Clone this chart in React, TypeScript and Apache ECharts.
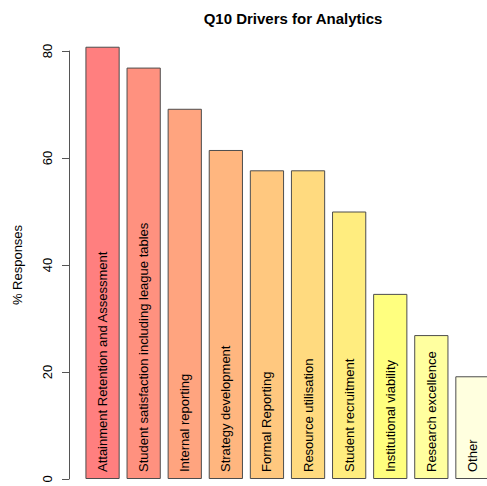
import React, { useEffect, useRef } from "react";
import * as echarts from "echarts";

const categories = [
  "Attainment Retention and Assessment",
  "Student satisfaction including league tables",
  "Internal reporting",
  "Strategy development",
  "Formal Reporting",
  "Resource utilisation",
  "Student recruitment",
  "Institutional viability",
  "Research excellence",
  "Other",
];
const values = [80.8, 76.9, 69.2, 61.5, 57.7, 57.7, 50.0, 34.6, 26.9, 19.2];
const barColors = [
  "#FF7F7F", "#FF917F", "#FFA47F", "#FFB67F", "#FFC87F",
  "#FFDA7F", "#FFED7F", "#FFFF7F", "#FFFF9F", "#FFFFDF",
];
const yTicks = [0, 20, 40, 60, 80];

export default function App() {
  const ref = useRef<HTMLDivElement>(null);
  useEffect(() => {
    document.body.style.margin = "0";
    const chart = echarts.init(ref.current!, null, { renderer: "svg" });
    const font = "Liberation Sans, Arial, Helvetica, sans-serif";
    chart.setOption({
      animation: false,
      backgroundColor: "#ffffff",
      title: {
        text: "Q10 Drivers for Analytics",
        left: 288,
        textAlign: "center",
        top: 6,
        textStyle: { fontFamily: font, fontSize: 15, fontWeight: "bold", color: "#000" },
      },
      grid: {
        left: 82,
        top: 51,
        width: 411,
        height: 428,
        containLabel: false,
        outerBoundsMode: "none",
      },
      xAxis: {
        type: "category",
        data: categories,
        axisLine: { show: false },
        axisTick: { show: false },
        axisLabel: { show: false },
        splitLine: { show: false },
      },
      yAxis: {
        type: "value",
        min: yTicks[0],
        max: yTicks[yTicks.length - 1],
        interval: 20,
        offset: 13,
        name: "% Responses",
        nameLocation: "middle",
        nameRotate: 90,
        nameGap: 45,
        nameTextStyle: { fontFamily: font, fontSize: 13, color: "#000" },
        axisLine: { show: true, lineStyle: { color: "#555", width: 1 } },
        axisTick: { show: true, length: 7, lineStyle: { color: "#555", width: 1 } },
        axisLabel: {
          rotate: 90,
          margin: 15,
          fontFamily: font,
          fontSize: 13,
          color: "#000",
        },
        splitLine: { show: false },
      },
      series: [
        {
          type: "bar",
          clip: false,
          barCategoryGap: "16.7%",
          data: values.map((v, i) => ({
            value: v,
            itemStyle: { color: barColors[i] },
          })),
          itemStyle: { borderColor: "#4d4d4d", borderWidth: 1 },
          label: {
            show: true,
            formatter: (p: any) => p.name,
            position: "insideBottom",
            rotate: 90,
            align: "left",
            verticalAlign: "middle",
            distance: 7,
            fontFamily: font,
            fontSize: 13,
            color: "#000",
          },
        },
      ],
    });
    return () => chart.dispose();
  }, []);
  return <div ref={ref} style={{ width: 487, height: 486 }} />;
}
